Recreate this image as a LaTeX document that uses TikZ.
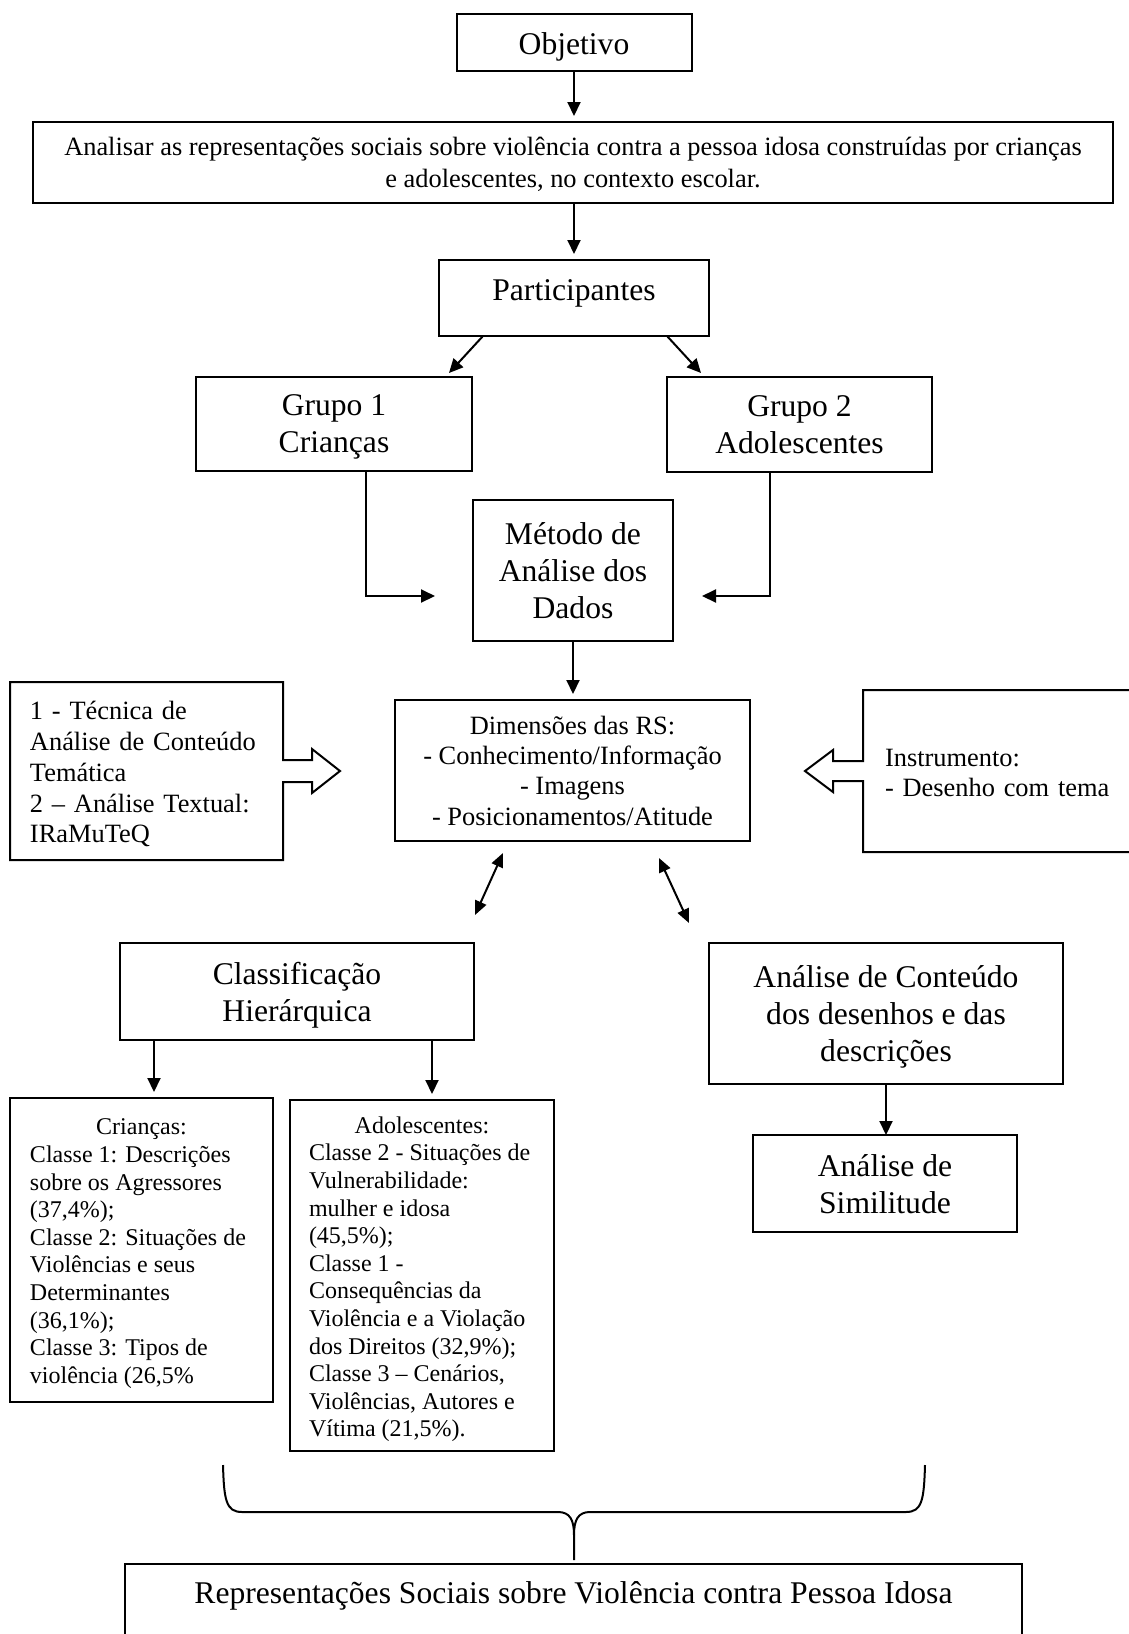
\documentclass[tikz,border=0pt]{standalone}
\usepackage{fontspec}
\setmainfont{Liberation Serif}
\usetikzlibrary{calc,arrows.meta}

\tikzset{
  frame/.style={draw, line width=1pt, inner sep=0pt, outer sep=0pt},
  box/.style={frame, align=center},
  plain/.style={inner sep=0pt, outer sep=0pt},
  arr/.style={line width=1pt, -{Triangle[length=7pt,width=6.5pt]}, shorten >=3pt},
  arrz/.style={line width=1pt, -{Triangle[length=7pt,width=6.5pt]}},
  dbl/.style={line width=1pt, {Triangle[length=7pt,width=6pt]}-{Triangle[length=7pt,width=6pt]}},
  outline/.style={line width=1pt, line join=miter},
  big/.style={font=\fontsize{15.8}{18.5}\selectfont},
  mid/.style={font=\fontsize{13.2}{15.2}\selectfont},
  sml/.style={font=\fontsize{12}{13.8}\selectfont},
}

\begin{document}
\begin{tikzpicture}[x=0.5pt,y=-0.5pt]
\fill[white] (0,0) rectangle (1129,1634);
\useasboundingbox (0,0) rectangle (1129,1634);

% top chain
\node[box,big,minimum width=117.5pt,minimum height=28.5pt,text height=15pt] (obj) at (574,42.5) {Objetivo};
\node[box,font=\fontsize{13.2}{15.7}\selectfont,minimum width=540pt,minimum height=40.5pt,text depth=-0.75pt] (ana) at (573,162.5)
  {Analisar as representações sociais sobre violência contra a pessoa idosa construídas por crianças\\e adolescentes, no contexto escolar.};
\node[box,big,minimum width=135pt,minimum height=38pt,text depth=8.4pt] (par) at (574,298) {Participantes};
\node[box,big,minimum width=138pt,minimum height=47pt,text depth=-3.8pt] (g1) at (334,424) {Grupo 1\\Crianças};
\node[box,big,minimum width=132.5pt,minimum height=47.5pt,text depth=-5pt] (g2) at (799.5,424.5) {Grupo 2\\Adolescentes};
\node[box,big,minimum width=100pt,minimum height=70.5pt,text depth=-1.4pt] (met) at (573,570.5) {Método de\\Análise dos\\Dados};

% dimensions row
\node[box,mid,minimum width=177.5pt,minimum height=70.5pt,text depth=-2.3pt] (dim) at (572.5,770.5)
  {Dimensões das RS:\\- Conhecimento/Informação\\- Imagens\\- Posicionamentos/Atitude};
\node[plain,font=\fontsize{13.2}{15.4}\selectfont,align=left,text width=116.5pt,inner xsep=10pt,minimum height=89pt,text height=12.4pt] (lft) at (146.5,771)
  {1 - Técnica de\\Análise de Conteúdo\\Temática\\2 – Análise Textual:\\IRaMuTeQ};
\node[plain,mid,align=left,text width=140pt,inner xsep=11pt,minimum height=81pt,text height=10.85pt,anchor=west] (rgt) at (863,771)
  {Instrumento:\\- Desenho com tema};

% block arrows joined to their boxes
\draw[outline] ($(lft.east)+(0,-11)$) -- (lft.north east) -- (lft.north west) -- (lft.south west)
  -- (lft.south east) -- ($(lft.east)+(0,11)$) -- ($(lft.east)+(29,11)$) -- ($(lft.east)+(29,22)$)
  -- ($(lft.east)+(57,0)$) -- ($(lft.east)+(29,-22)$) -- ($(lft.east)+(29,-11)$) -- cycle;
\draw[outline] ($(rgt.west)+(0,-10)$) -- (rgt.north west) -- (rgt.north east) -- (rgt.south east)
  -- (rgt.south west) -- ($(rgt.west)+(0,10)$) -- ($(rgt.west)+(-30,10)$) -- ($(rgt.west)+(-30,21)$)
  -- ($(rgt.west)+(-58,0)$) -- ($(rgt.west)+(-30,-21)$) -- ($(rgt.west)+(-30,-10)$) -- cycle;

% analysis branches
\node[box,big,minimum width=177pt,minimum height=48.5pt,text depth=-0.8pt] (cls) at (297,991.5) {Classificação\\Hierárquica};
\node[box,big,minimum width=177pt,minimum height=70.5pt,text depth=-0.8pt] (adc) at (886,1013.5)
  {Análise de Conteúdo\\dos desenhos e das\\descrições};
\node[box,big,minimum width=132pt,minimum height=48.5pt,text depth=-2.1pt] (sim) at (885,1183.5) {Análise de\\Similitude};
\node[frame,sml,minimum width=131.5pt,minimum height=152pt,text depth=0.54pt] (cri) at (141.5,1250)
  {\begin{tabular}[b]{@{}p{111.5pt}@{}}
   \multicolumn{1}{@{}c@{}}{Crianças:}\\
   Classe 1: Descrições\\ sobre os Agressores\\ (37,4\%);\\ Classe 2: Situações de\\
   Violências e seus\\ Determinantes\\ (36,1\%);\\ Classe 3: Tipos de\\ violência (26,5\%
   \end{tabular}};
\node[frame,sml,minimum width=132pt,minimum height=175.5pt,text depth=0pt] (ado) at (422,1275.5)
  {\begin{tabular}[b]{@{}p{113pt}@{}}
   \multicolumn{1}{@{}c@{}}{Adolescentes:}\\
   Classe 2 - Situações de\\ Vulnerabilidade:\\ mulher e idosa\\ (45,5\%);\\ Classe 1 -\\
   Consequências da\\ Violência e a Violação\\ dos Direitos (32,9\%);\\ Classe 3 – Cenários,\\
   Violências, Autores e\\ Vítima (21,5\%).
   \end{tabular}};

% final result
\node[box,big,anchor=north,minimum width=448.5pt,text height=19.75pt,text depth=50pt] (rep) at (573.5,1564)
  {Representações Sociais sobre Violência contra Pessoa Idosa};

% connectors
\draw[arr] (obj.south) -- (obj.south |- ana.north);
\draw[arr] (ana.south -| par.north) -- (par.north);
\draw[arrz] ($(par.south west)+(44,0)$) -- ($(g1.north east)+(-23,-4)$);
\draw[arrz] ($(par.south east)+(-42,0)$) -- ($(g2.north west)+(34,-4)$);
\coordinate (t1) at (435,596);
\coordinate (t2) at (702,596);
\draw[arrz] ([xshift=16pt]g1.south) |- (t1);
\draw[arrz] ([xshift=-14.75pt]g2.south) |- (t2);
\draw[arr] (met.south) -- (met.south |- dim.north);

\coordinate (d1a) at (503,853);
\coordinate (d1b) at (475,915);
\coordinate (d2a) at (659,858);
\coordinate (d2b) at (689,923);
\draw[dbl] (d1a) -- (d1b);
\draw[dbl] (d2a) -- (d2b);

\draw[arr] ([xshift=-71.5pt]cls.south) -- ([xshift=-71.5pt]cls.south |- cri.north);
\draw[arr] ([xshift=67.5pt]cls.south) -- ([xshift=67.5pt]cls.south |- ado.north);
\draw[arrz] (adc.south) -- (adc.south |- sim.north);

% brace gathering both branches
\coordinate (bl) at (223,1465);
\coordinate (br) at (925,1465);
\coordinate (bm) at (574,1535);
\draw[line width=1pt] (bl) .. controls (224,1500) and (226,1512) .. (242,1512) -- (558,1512)
  .. controls (570,1512) and (574,1520) .. (bm) -- (574,1560);
\draw[line width=1pt] (bm) .. controls (574,1520) and (578,1512) .. (590,1512) -- (906,1512)
  .. controls (922,1512) and (924,1500) .. (br);
\end{tikzpicture}
\end{document}
